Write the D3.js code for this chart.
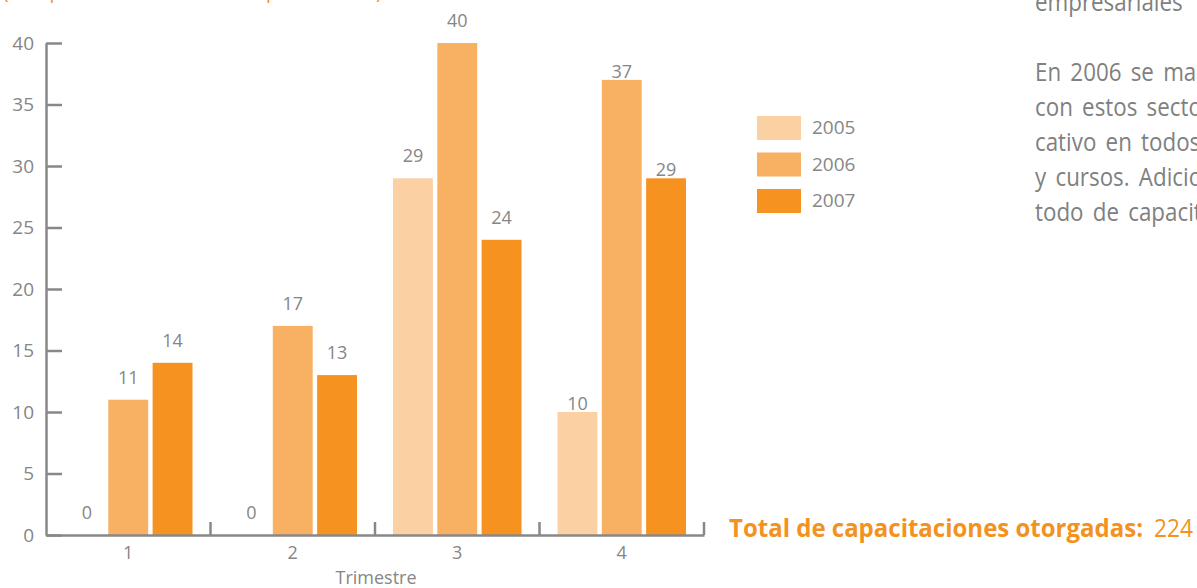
<!DOCTYPE html>
<html lang="es">
	<head>
		<meta charset="utf-8">
		<title>Capacitaciones por trimestre</title>
		<script src="https://d3js.org/d3.v7.min.js"></script>
		<style>
			body { margin: 0; background: #fff; }
			svg { display: block; font-family: "Open Sans", sans-serif; }
		</style>
	</head>
	<body>
		<script type="text/javascript">

			// datos
			const quarters = ["1", "2", "3", "4"];
			const years = ["2005", "2006", "2007"];
			const values2005 = [0, 0, 29, 10];
			const values2006 = [11, 17, 40, 37];
			const values2007 = [14, 13, 24, 29];
			const yTicks = [0, 5, 10, 15, 20, 25, 30, 35, 40];
			const colors = ["#fbd1a3", "#f8b062", "#f59220"];
			const xTitle = "Trimestre";
			const subtitle = "(Comparativo trimestral de capacitaciones)";
			const totalLabel = "Total de capacitaciones otorgadas:";
			const totalValue = 224;
			const sideText = ["empresariales", "", "En 2006 se mantuvo", "con estos sectores",
				"cativo en todos", "y cursos. Adicionalmente", "todo de capacitación"];

			const series = [values2005, values2006, values2007];

			drawChart();

			// escala horizontal un texto para que ocupe el ancho dado
			function fitText(sel, x, y, w){
				const len = sel.node().getComputedTextLength();
				sel.attr("transform", `translate(${x},${y}) scale(${w / len},1)`);
			}

			function drawChart(){
				const width = 1197;
				const height = 588;
				const marginLeft = 46;
				const plotRight = 704;
				const yTop = 43;
				const yBottom = 535;
				const gray = "#868686";
				const axisGray = "#888888";

				const rows = [];
				quarters.forEach((q, i) => {
					years.forEach((yr, j) => rows.push({q: q, year: yr, value: series[j][i]}));
				});

				const x0 = d3.scaleBand()
					.domain(quarters)
					.range([marginLeft, plotRight])
					.padding(0);

				const x1 = d3.scaleBand()
					.domain(years)
					.range([18, x0.bandwidth() - 18])
					.paddingInner(0.1);

				const y = d3.scaleLinear()
					.domain([0, 40])
					.range([yBottom, yTop]);

				const color = d3.scaleOrdinal()
					.domain(years)
					.range(colors);

				const svg = d3.select("body").append("svg")
					.attr("width", width)
					.attr("height", height)
					.attr("viewBox", [0, 0, width, height]);

				// subtitulo cortado arriba
				svg.append("text")
					.attr("x", 3)
					.attr("y", -1)
					.attr("fill", "#f39221")
					.style("font-size", "19px")
					.text(subtitle);

				// barras
				svg.append("g")
					.selectAll("rect")
					.data(rows)
					.join("rect")
					.attr("x", d => x0(d.q) + x1(d.year))
					.attr("y", d => y(d.value))
					.attr("width", x1.bandwidth())
					.attr("height", d => y(0) - y(d.value))
					.attr("fill", d => color(d.year));

				// etiquetas de valores (las del trimestre 4 van pegadas a la barra)
				svg.append("g")
					.selectAll("text")
					.data(rows.filter(d => d.value > 0 || d.year === "2005"))
					.join("text")
					.attr("x", d => x0(d.q) + x1(d.year) + x1.bandwidth() / 2 + (d.value === 0 ? 3 : 0))
					.attr("y", d => y(d.value) - (d.q === "4" ? 2 : 16))
					.attr("text-anchor", "middle")
					.attr("fill", gray)
					.style("font-size", "18px")
					.text(d => d.value);

				// eje y
				svg.append("g")
					.attr("transform", `translate(${marginLeft},0)`)
					.call(d3.axisLeft(y).tickValues(yTicks).tickSizeInner(-16).tickSizeOuter(0).tickPadding(12))
					.call(g => g.select(".domain").attr("stroke", axisGray).attr("stroke-width", 2.5))
					.call(g => g.selectAll(".tick line").attr("stroke", axisGray).attr("stroke-width", 2.5))
					.call(g => g.selectAll(".tick text")
						.attr("fill", gray)
						.style("font-size", "19px")
						.style("font-family", "'Open Sans', sans-serif"));

				// eje x
				svg.append("g")
					.attr("transform", `translate(0,${yBottom})`)
					.call(d3.axisBottom(x0).tickSize(0).tickPadding(11))
					.call(g => g.select(".domain").attr("stroke", axisGray).attr("stroke-width", 2.5))
					.call(g => g.selectAll(".tick text")
						.attr("fill", gray)
						.style("font-size", "18px")
						.style("font-family", "'Open Sans', sans-serif"))
					.call(g => g.selectAll(".sep")
						.data(quarters)
						.join("line")
						.attr("class", "sep")
						.attr("x1", d => x0(d) + x0.bandwidth())
						.attr("x2", d => x0(d) + x0.bandwidth())
						.attr("y1", 0)
						.attr("y2", -13)
						.attr("stroke", axisGray)
						.attr("stroke-width", 2.5));

				svg.append("text")
					.attr("x", 376)
					.attr("y", 584)
					.attr("text-anchor", "middle")
					.attr("fill", gray)
					.style("font-size", "18px")
					.text(xTitle);

				// leyenda
				const legend = svg.append("g")
					.selectAll("g")
					.data(years)
					.join("g")
					.attr("transform", (d, i) => `translate(757,${116 + i * 36.5})`);

				legend.append("rect")
					.attr("width", 44)
					.attr("height", 24)
					.attr("fill", d => color(d));

				legend.append("text")
					.attr("x", 55)
					.attr("y", 18)
					.attr("fill", gray)
					.style("font-size", "19px")
					.text(d => d);

				// total
				const totalA = svg.append("text")
					.attr("fill", "#f39221")
					.style("font-size", "25px")
					.style("font-weight", "bold")
					.text(totalLabel);
				fitText(totalA, 729, 537, 414);

				const totalB = svg.append("text")
					.attr("fill", "#f39221")
					.style("font-size", "25px")
					.text(totalValue);
				fitText(totalB, 1154, 537, 39);

				// texto lateral (cortado por el borde)
				svg.append("g")
					.attr("transform", "translate(1035,0) scale(0.86,1)")
					.selectAll("text")
					.data(sideText)
					.join("text")
					.attr("x", 0)
					.attr("y", (d, i) => 11 + i * 35)
					.attr("fill", "#808080")
					.style("font-size", "26px")
					.style("word-spacing", "4px")
					.text(d => d);
			}

		</script>
	</body>
</html>
